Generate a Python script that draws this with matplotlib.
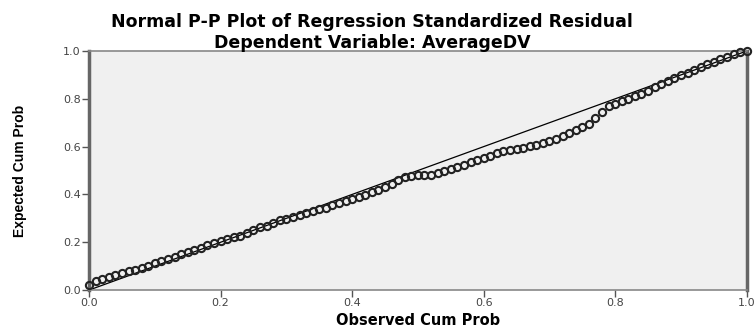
import matplotlib
matplotlib.use("Agg")
import matplotlib.pyplot as plt

# observed vs expected cumulative probabilities
obs_cum = [0.00, 0.01, 0.02, 0.03, 0.04, 0.05, 0.06, 0.07, 0.08, 0.09,
           0.10, 0.11, 0.12, 0.13, 0.14, 0.15, 0.16, 0.17, 0.18, 0.19,
           0.20, 0.21, 0.22, 0.23, 0.24, 0.25, 0.26, 0.27, 0.28, 0.29,
           0.30, 0.31, 0.32, 0.33, 0.34, 0.35, 0.36, 0.37, 0.38, 0.39,
           0.40, 0.41, 0.42, 0.43, 0.44, 0.45, 0.46, 0.47, 0.48, 0.49,
           0.50, 0.51, 0.52, 0.53, 0.54, 0.55, 0.56, 0.57, 0.58, 0.59,
           0.60, 0.61, 0.62, 0.63, 0.64, 0.65, 0.66, 0.67, 0.68, 0.69,
           0.70, 0.71, 0.72, 0.73, 0.74, 0.75, 0.76, 0.77, 0.78, 0.79,
           0.80, 0.81, 0.82, 0.83, 0.84, 0.85, 0.86, 0.87, 0.88, 0.89,
           0.90, 0.91, 0.92, 0.93, 0.94, 0.95, 0.96, 0.97, 0.98, 0.99, 1.00]
exp_cum = [0.020, 0.036, 0.048, 0.056, 0.064, 0.072, 0.078, 0.085, 0.092, 0.100,
           0.115, 0.122, 0.130, 0.140, 0.152, 0.160, 0.168, 0.176, 0.190, 0.198,
           0.207, 0.213, 0.220, 0.228, 0.238, 0.252, 0.262, 0.270, 0.280, 0.291,
           0.298, 0.306, 0.314, 0.322, 0.330, 0.337, 0.345, 0.354, 0.363, 0.372,
           0.382, 0.390, 0.398, 0.410, 0.420, 0.430, 0.445, 0.460, 0.472, 0.478,
           0.480, 0.482, 0.483, 0.488, 0.497, 0.505, 0.515, 0.524, 0.535, 0.545,
           0.552, 0.562, 0.572, 0.580, 0.586, 0.591, 0.596, 0.601, 0.607, 0.614,
           0.622, 0.632, 0.644, 0.657, 0.670, 0.682, 0.695, 0.718, 0.745, 0.768,
           0.780, 0.790, 0.800, 0.810, 0.820, 0.833, 0.848, 0.862, 0.876, 0.888,
           0.900, 0.910, 0.920, 0.932, 0.944, 0.955, 0.966, 0.977, 0.987, 0.995, 1.000]
ticks = [0.0, 0.2, 0.4, 0.6, 0.8, 1.0]
tick_labels = ["0.0", "0.2", "0.4", "0.6", "0.8", "1.0"]

fig = plt.figure(figsize=(7.55, 3.27), dpi=100)
ax = fig.add_axes([0.118, 0.113, 0.871, 0.731])
ax.set_facecolor("#f0f0f0")

# reference diagonal
ax.plot([0, 1], [0, 1], color="black", lw=0.9, zorder=2)
ax.plot(obs_cum, exp_cum, linestyle="none", marker="o", markersize=5.2,
        markerfacecolor="none", markeredgecolor="#222222", markeredgewidth=1.5,
        zorder=3, clip_on=False)

ax.set_xlim(0, 1)
ax.set_ylim(0, 1)
ax.set_xticks(ticks)
ax.set_xticklabels(tick_labels)
ax.set_yticks(ticks)
ax.set_yticklabels(tick_labels)
ax.tick_params(direction="out", length=5, width=1, color="#555555",
               labelsize=8, labelcolor="#444444", pad=1)
for lab in ax.get_xticklabels() + ax.get_yticklabels():
    lab.set_family("DejaVu Sans")

for side in ["left", "right"]:
    ax.spines[side].set_linewidth(2.5)
    ax.spines[side].set_color("#666666")
for side in ["top", "bottom"]:
    ax.spines[side].set_linewidth(1.2)
    ax.spines[side].set_color("#888888")

ax.set_xlabel("Observed Cum Prob", family="DejaVu Sans", fontsize=10.5,
              fontweight="bold", labelpad=3)
ax.set_ylabel("Expected Cum Prob", family=["Liberation Sans Narrow", "Liberation Sans"],
              fontsize=10, fontweight="bold", labelpad=26)

fig.text(0.493, 0.933, "Normal P-P Plot of Regression Standardized Residual",
         ha="center", va="center", family="DejaVu Sans", fontsize=12.5,
         fontweight="bold")
fig.text(0.493, 0.868, "Dependent Variable: AverageDV",
         ha="center", va="center", family="DejaVu Sans", fontsize=12.5,
         fontweight="bold")

fig.savefig("out.png", dpi=100)
